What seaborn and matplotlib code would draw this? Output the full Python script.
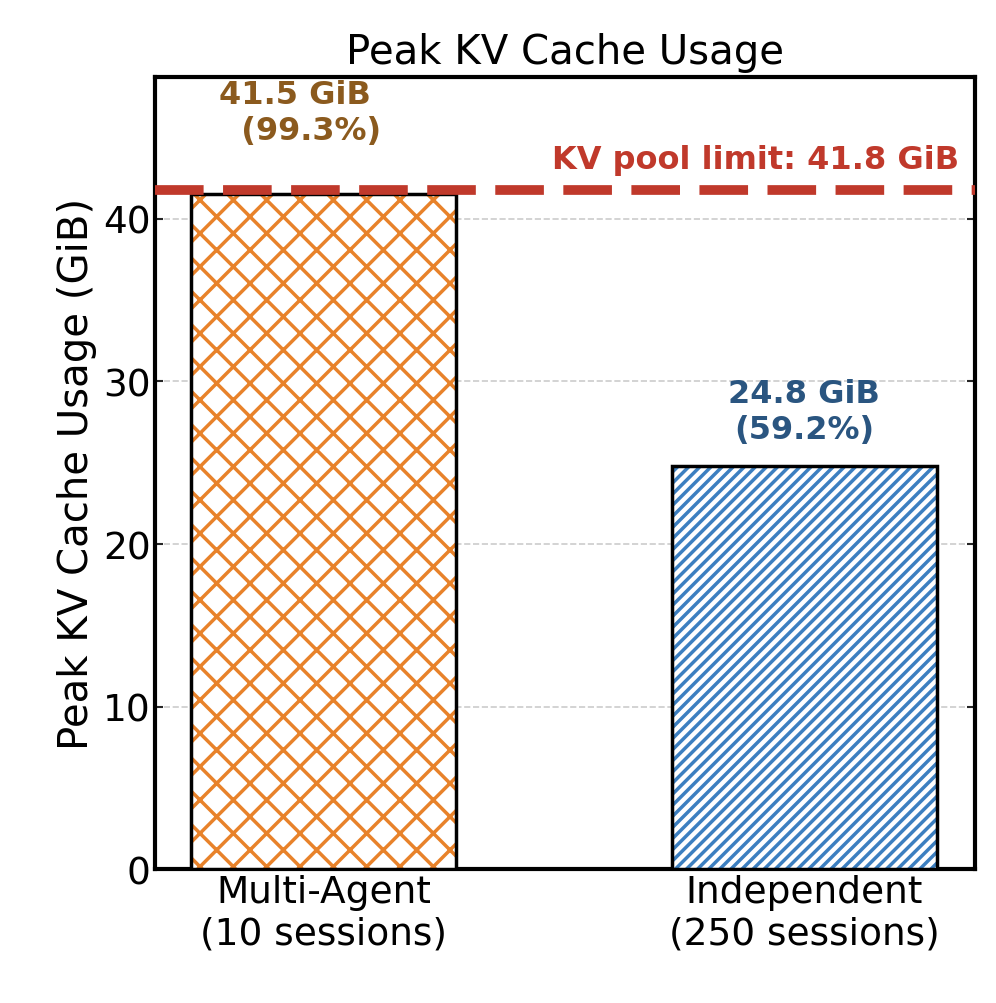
import matplotlib
matplotlib.use("Agg")
import matplotlib.pyplot as plt
import seaborn as sns
import pandas as pd

categories = ["Multi-Agent\n(10 sessions)", "Independent\n(250 sessions)"]
usage_gib = [41.5, 24.8]
usage_pct = [99.3, 59.2]
pool_limit = 41.8

fill_colors = ["#E8822A", "#3C7FC0"]
text_colors = ["#8B5A1E", "#2A5580"]
hatches = ["x", "///"]

sns.set_style("white")
plt.rcParams["font.family"] = ["DejaVu Sans"]
plt.rcParams["hatch.linewidth"] = 2.5

df = pd.DataFrame({"cat": categories, "val": usage_gib})

fig, ax = plt.subplots(figsize=(9.96, 10.04), dpi=100)
fig.subplots_adjust(left=0.156, right=0.979, top=0.922, bottom=0.133)

sns.barplot(data=df, x="cat", y="val", ax=ax, width=0.55, color="white", zorder=3)
for bar, c, h in zip(ax.patches, fill_colors, hatches):
    bar.set_facecolor("white")
    bar.set_edgecolor(c)
    bar.set_hatch(h)
    bar.set_linewidth(0)
    # black outline on top
    ax.add_patch(plt.Rectangle(bar.get_xy(), bar.get_width(), bar.get_height(),
                               fill=False, edgecolor="black", linewidth=2.5, zorder=4))

ax.axhline(pool_limit, color="#C0392B", linestyle=(0, (5, 2)), linewidth=7, zorder=5)
ax.text(0.98, pool_limit + 0.9, f"KV pool limit: {pool_limit} GiB", color="#C0392B",
        fontsize=23, fontweight="bold", ha="right", va="bottom",
        transform=ax.get_yaxis_transform(), zorder=6)

ax.text(-0.05, 44.5, f"{usage_gib[0]} GiB\n  ({usage_pct[0]}%)", color=text_colors[0],
        fontsize=23, fontweight="bold", ha="center", va="bottom", zorder=6,
        multialignment="left")
ax.text(1, usage_gib[1] + 1.3, f"{usage_gib[1]} GiB\n({usage_pct[1]}%)", color=text_colors[1],
        fontsize=23, fontweight="bold", ha="center", va="bottom", zorder=6)

ax.set_xlim(-0.35, 1.355)
ax.set_ylim(0, 48.7)
ax.set_yticks([0, 10, 20, 30, 40])
ax.yaxis.grid(True, linestyle="--", color="#cccccc", linewidth=1.2, zorder=0)
ax.set_axisbelow(True)
ax.set_xlabel("")
ax.set_ylabel("Peak KV Cache Usage (GiB)", fontsize=29, color="black")
ax.set_title("Peak KV Cache Usage", fontsize=29, pad=10, color="black")
ax.tick_params(axis="both", labelsize=27, direction="in", length=6, width=1.5,
               right=True, left=True, labelcolor="black")
for s in ax.spines.values():
    s.set_linewidth(3)
    s.set_color("black")

fig.savefig("out.png", dpi=100)
